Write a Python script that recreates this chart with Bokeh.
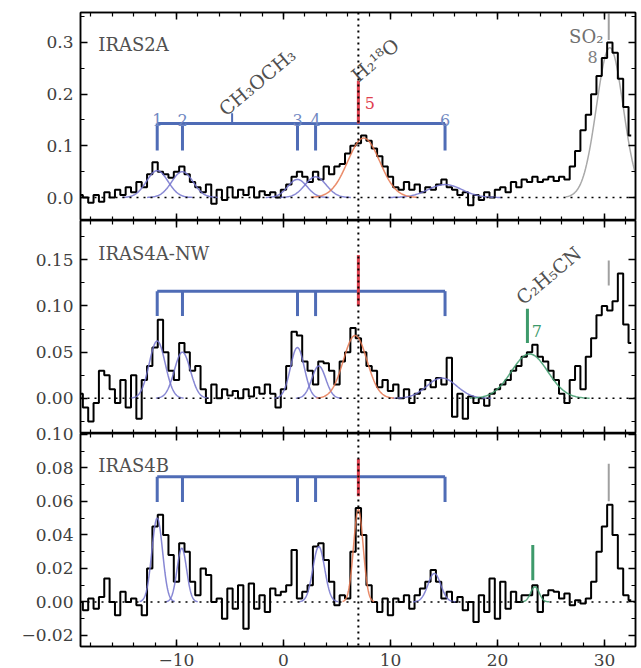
import numpy as np
from bokeh.plotting import figure
from bokeh.layouts import column
from bokeh.models import (Range1d, LinearAxis, SingleIntervalTicker,
                          CustomJSTickFormatter, Span)
from bokeh.core.properties import value
from bokeh.embed import file_html
from bokeh.resources import INLINE

# ---------------- data ----------------
v_start, dv, n_chan = -19.0, 0.5, 104
velocity = [round(v_start + dv * i, 2) for i in range(n_chan)]

iras2a = [0.005, 0.000, -0.010, 0.005, -0.008, 0.010, 0.000, 0.015, 0.005, 0.020,
          0.010, 0.030, 0.020, 0.045, 0.068, 0.050, 0.045, 0.038, 0.050, 0.060,
          0.045, 0.030, 0.020, 0.010, 0.025, -0.012, 0.015, -0.005, 0.020, 0.000,
          0.015, 0.005, 0.020, 0.000, 0.012, 0.005, 0.010, 0.000, 0.015, 0.025,
          0.040, 0.050, 0.040, 0.030, 0.050, 0.035, 0.060, 0.045, 0.060, 0.065,
          0.085, 0.100, 0.105, 0.120, 0.110, 0.095, 0.080, 0.060, 0.040, 0.020,
          0.015, 0.030, 0.015, 0.025, 0.010, 0.020, 0.015, 0.025, 0.035, 0.020,
          0.015, 0.005, 0.010, -0.015, 0.005, -0.005, 0.010, 0.000, 0.015, 0.020,
          0.010, 0.030, 0.020, 0.035, 0.030, 0.040, 0.030, 0.035, 0.040, 0.032,
          0.040, 0.035, 0.060, 0.090, 0.130, 0.160, 0.200, 0.235, 0.270, 0.300,
          0.280, 0.230, 0.175, 0.120]

iras4a = [0.005, -0.010, -0.025, -0.005, 0.030, 0.025, 0.010, -0.005, 0.020, -0.010,
          0.025, -0.022, 0.020, 0.035, 0.055, 0.085, 0.050, 0.030, 0.020, 0.060,
          0.050, 0.030, 0.035, 0.010, -0.005, 0.015, 0.000, 0.010, 0.003, 0.008,
          0.000, 0.010, 0.002, 0.012, 0.005, 0.015, 0.005, -0.010, 0.010, 0.035,
          0.072, 0.068, 0.040, 0.030, 0.015, 0.040, 0.038, 0.030, 0.015, 0.040,
          0.050, 0.076, 0.065, 0.050, 0.035, 0.030, 0.012, 0.020, 0.008, 0.015,
          0.000, 0.010, -0.005, 0.005, 0.010, 0.020, 0.012, 0.022, 0.015, 0.044,
          -0.020, 0.005, -0.022, 0.002, -0.005, 0.000, -0.008, 0.005, 0.010, 0.015,
          0.020, 0.030, 0.035, 0.045, 0.050, 0.058, 0.045, 0.040, 0.030, 0.020,
          0.005, -0.005, 0.020, 0.035, 0.010, 0.045, 0.065, 0.090, 0.100, 0.095,
          0.105, 0.135, 0.080, 0.060]

iras4b = [0.000, -0.005, 0.002, -0.004, 0.003, 0.014, 0.000, -0.008, 0.006, 0.000,
          0.002, -0.002, -0.008, 0.020, 0.045, 0.052, 0.040, 0.028, 0.012, 0.035,
          0.030, 0.012, 0.004, 0.020, 0.016, 0.000, 0.002, -0.010, 0.008, -0.004,
          0.010, -0.016, 0.011, -0.004, 0.004, -0.006, 0.008, 0.004, 0.006, 0.010,
          0.031, 0.002, 0.006, 0.010, 0.033, 0.035, 0.025, 0.012, -0.002, 0.004,
          0.002, 0.030, 0.056, 0.040, 0.010, 0.000, -0.006, 0.002, -0.008, 0.002,
          0.000, 0.004, -0.004, 0.004, 0.008, 0.012, 0.019, 0.012, 0.002, 0.006,
          0.000, 0.003, -0.005, 0.000, -0.012, 0.004, -0.006, 0.014, -0.010, 0.012,
          -0.004, 0.006, 0.000, 0.004, 0.004, 0.010, -0.006, 0.004, 0.007, 0.006,
          0.002, 0.005, -0.002, 0.001, -0.001, 0.002, 0.012, 0.030, 0.045, 0.058,
          0.040, 0.020, 0.004, 0.001]

# Gaussian fit components: (centre, amplitude, sigma)
fit_2a_blue = [(-11.8, 0.052, 1.0), (-9.45, 0.050, 1.0), (1.3, 0.035, 0.9),
               (3.0, 0.040, 1.0), (15.1, 0.025, 1.6)]
fit_2a_red = [(7.5, 0.115, 1.5)]
fit_2a_grey = [(30.5, 0.290, 1.25)]
fit_4a_blue = [(-11.8, 0.062, 0.75), (-9.45, 0.050, 0.75), (1.3, 0.055, 0.65),
               (3.3, 0.035, 0.65), (14.8, 0.022, 1.4)]
fit_4a_red = [(6.7, 0.068, 1.1)]
fit_4a_green = [(23.0, 0.048, 1.7)]
fit_4b_blue = [(-11.8, 0.050, 0.5), (-9.5, 0.032, 0.45), (3.3, 0.033, 0.55),
               (14.1, 0.017, 0.6)]
fit_4b_red = [(7.0, 0.055, 0.45)]
fit_4b_green = [(23.5, 0.009, 0.4)]

# line markers
ch3och3_lines = [-11.8, -9.44, 1.31, 3.0, 15.1]
ch3och3_nums = ["1", "2", "3", "4", "6"]
ch3och3_mid = -4.8
h218o_v = 7.0
c2h5cn_v = [22.8, 23.3]
so2_v = 30.4
v_sys = 7.0

x_lo, x_hi = -18.97, 32.9

BLUE = "#4f6cb6"
BLUE_TXT = "#7088c2"
BLUE_FIT = "#7272cc"
RED = "#e0404e"
RED_FIT = "#e6774f"
GREEN = "#3d9a6b"
GREY = "#a0a0a0"
TXT = "#505050"
SERIF = value("DejaVu Serif")

xr = Range1d(x_lo, x_hi)


def fmt(digits):
    return CustomJSTickFormatter(code="""
        const v = Math.abs(tick) < 1e-9 ? 0 : tick;
        return v.toFixed(%d).replace('-', '\\u2212');
    """ % digits)


BLANK = CustomJSTickFormatter(code="return '';")


def style(ax, labels):
    ax.axis_line_color = "black"
    ax.axis_line_width = 1.5
    ax.major_tick_in = 7
    ax.major_tick_out = 0
    ax.minor_tick_in = 4
    ax.minor_tick_out = 0
    ax.major_tick_line_width = 1.5
    ax.minor_tick_line_width = 1.2
    ax.major_tick_line_color = "black"
    ax.minor_tick_line_color = "black"
    if labels:
        ax.major_label_text_font = "DejaVu Serif"
        ax.major_label_text_font_size = "17px"
        ax.major_label_text_color = "#404040"
        ax.major_label_standoff = 7
    else:
        ax.formatter = BLANK
        ax.major_label_text_font_size = "0px"
        ax.major_label_standoff = 0


def make_panel(h, yr, yint, ydig, top_border, show_x, overlap=0):
    kw = {}
    if overlap:
        kw["styles"] = {"margin-top": "-%dpx" % overlap}
    p = figure(width=641, height=h, x_range=xr, y_range=Range1d(*yr),
               output_backend="svg", toolbar_location=None,
               min_border_left=80, min_border_right=6,
               min_border_top=top_border, min_border_bottom=0, **kw)
    p.grid.visible = False
    p.outline_line_color = "black"
    p.outline_line_width = 1.5
    p.background_fill_color = "white"
    if overlap:
        p.border_fill_color = None
    else:
        p.border_fill_color = "white"
    xt = SingleIntervalTicker(interval=10, num_minor_ticks=5)
    yt = SingleIntervalTicker(interval=yint, num_minor_ticks=2)
    p.xaxis.ticker = xt
    p.xaxis.formatter = fmt(0)
    p.yaxis.ticker = yt
    p.yaxis.formatter = fmt(ydig)
    style(p.xaxis[0], show_x)
    style(p.yaxis[0], True)
    top = LinearAxis(ticker=xt)
    style(top, False)
    p.add_layout(top, "above")
    right = LinearAxis(ticker=yt)
    style(right, False)
    p.add_layout(right, "right")
    p.add_layout(Span(location=0, dimension="width", line_color="black",
                      line_dash="2 5", line_width=1.5))
    p.add_layout(Span(location=v_sys, dimension="height", line_color="black",
                      line_dash="2 4", line_width=2))
    return p


def add_fits(p, comps, color, alpha=0.85, width=1.5):
    xs, ys = [], []
    for c, a, s in comps:
        xx = np.linspace(c - 3.3 * s, c + 3.3 * s, 90)
        xs.append(xx)
        ys.append(a * np.exp(-0.5 * ((xx - c) / s) ** 2))
    p.multi_line(xs, ys, line_color=color, line_alpha=alpha, line_width=width)


def add_bracket(p, ytop, ybot, mid_top=None):
    p.segment(x0=[ch3och3_lines[0]], y0=[ytop], x1=[ch3och3_lines[-1]], y1=[ytop],
              line_color=BLUE, line_width=3)
    p.segment(x0=ch3och3_lines, y0=[ytop] * len(ch3och3_lines),
              x1=ch3och3_lines, y1=[ybot] * len(ch3och3_lines),
              line_color=BLUE, line_width=3)
    if mid_top is not None:
        p.segment(x0=[ch3och3_mid], y0=[ytop], x1=[ch3och3_mid], y1=[mid_top],
                  line_color=BLUE, line_width=2)


def label(p, x, y, t, color=TXT, size="17px", align="left", baseline="alphabetic", angle=0.0):
    p.text(x=[x], y=[y], text=[t], text_color=color, text_font=SERIF,
           text_font_size=value(size), text_align=align, text_baseline=baseline,
           angle=angle)


ANG = np.deg2rad(40)

# ---------- panel 1: IRAS2A ----------
p1 = make_panel(220, (-0.0445, 0.358), 0.1, 1, 12, False)
add_fits(p1, fit_2a_grey, GREY, 0.9, 1.5)
p1.step(velocity, iras2a, mode="center", line_color="black", line_width=2)
add_fits(p1, fit_2a_blue, BLUE_FIT)
add_fits(p1, fit_2a_red, RED_FIT)
add_bracket(p1, 0.143, 0.091, 0.163)
p1.segment(x0=[h218o_v], y0=[0.143], x1=[h218o_v], y1=[0.226], line_color=RED, line_width=3)
p1.segment(x0=[so2_v], y0=[0.305], x1=[so2_v], y1=[0.36], line_color=GREY, line_width=2)
p1.text(x=ch3och3_lines, y=[0.150] * 5, text=ch3och3_nums, text_color=BLUE_TXT,
        text_font=SERIF, text_font_size=value("16px"), text_align="center",
        text_baseline="alphabetic")
label(p1, 7.6, 0.183, "5", RED, "16px")
label(p1, -17.3, 0.296, "IRAS2A", TXT, "18px")
label(p1, -5.8, 0.166, "CH\u2083OCH\u2083", TXT, "19px", angle=ANG)
label(p1, 6.6, 0.232, "H\u2082\u00b9\u2078O", TXT, "19px", angle=ANG)
label(p1, 29.9, 0.311, "SO\u2082", "#707070", "18px", align="right")
label(p1, 28.9, 0.271, "8", "#808080", "16px", align="center")

# ---------- panel 2: IRAS4A-NW ----------
p2 = make_panel(213, (-0.038, 0.1924), 0.05, 2, 0, False)
p2.step(velocity, iras4a, mode="center", line_color="black", line_width=2)
add_fits(p2, fit_4a_blue, BLUE_FIT)
add_fits(p2, fit_4a_red, RED_FIT)
add_fits(p2, fit_4a_green, GREEN)
add_bracket(p2, 0.116, 0.089)
p2.segment(x0=[h218o_v], y0=[0.100], x1=[h218o_v], y1=[0.155], line_color=RED, line_width=3)
p2.segment(x0=[c2h5cn_v[0]], y0=[0.060], x1=[c2h5cn_v[0]], y1=[0.097], line_color=GREEN, line_width=3)
p2.segment(x0=[so2_v], y0=[0.122], x1=[so2_v], y1=[0.149], line_color=GREY, line_width=2)
label(p2, 23.2, 0.073, "7", GREEN, "16px")
label(p2, -17.3, 0.1565, "IRAS4A-NW", TXT, "18px")
label(p2, 22.0, 0.106, "C\u2082H\u2085CN", TXT, "19px", angle=ANG)

# ---------- panel 3: IRAS4B ----------
OVL = 10
p3 = make_panel(210 + 25 + OVL, (-0.0266, 0.1005), 0.02, 2, OVL, True, overlap=OVL)
p3.step(velocity, iras4b, mode="center", line_color="black", line_width=2)
add_fits(p3, fit_4b_blue, BLUE_FIT)
add_fits(p3, fit_4b_red, RED_FIT)
add_fits(p3, fit_4b_green, GREEN)
add_bracket(p3, 0.0747, 0.0596)
p3.segment(x0=[h218o_v], y0=[0.063], x1=[h218o_v], y1=[0.0855], line_color=RED, line_width=3)
p3.segment(x0=[c2h5cn_v[1]], y0=[0.013], x1=[c2h5cn_v[1]], y1=[0.034], line_color=GREEN, line_width=3)
p3.segment(x0=[so2_v], y0=[0.060], x1=[so2_v], y1=[0.0825], line_color=GREY, line_width=2)
label(p3, -17.3, 0.0813, "IRAS4B", TXT, "18px")

layout = column(p1, p2, p3, spacing=0)

with open("out.html", "w", encoding="utf-8") as f:
    f.write(file_html(layout, INLINE))
